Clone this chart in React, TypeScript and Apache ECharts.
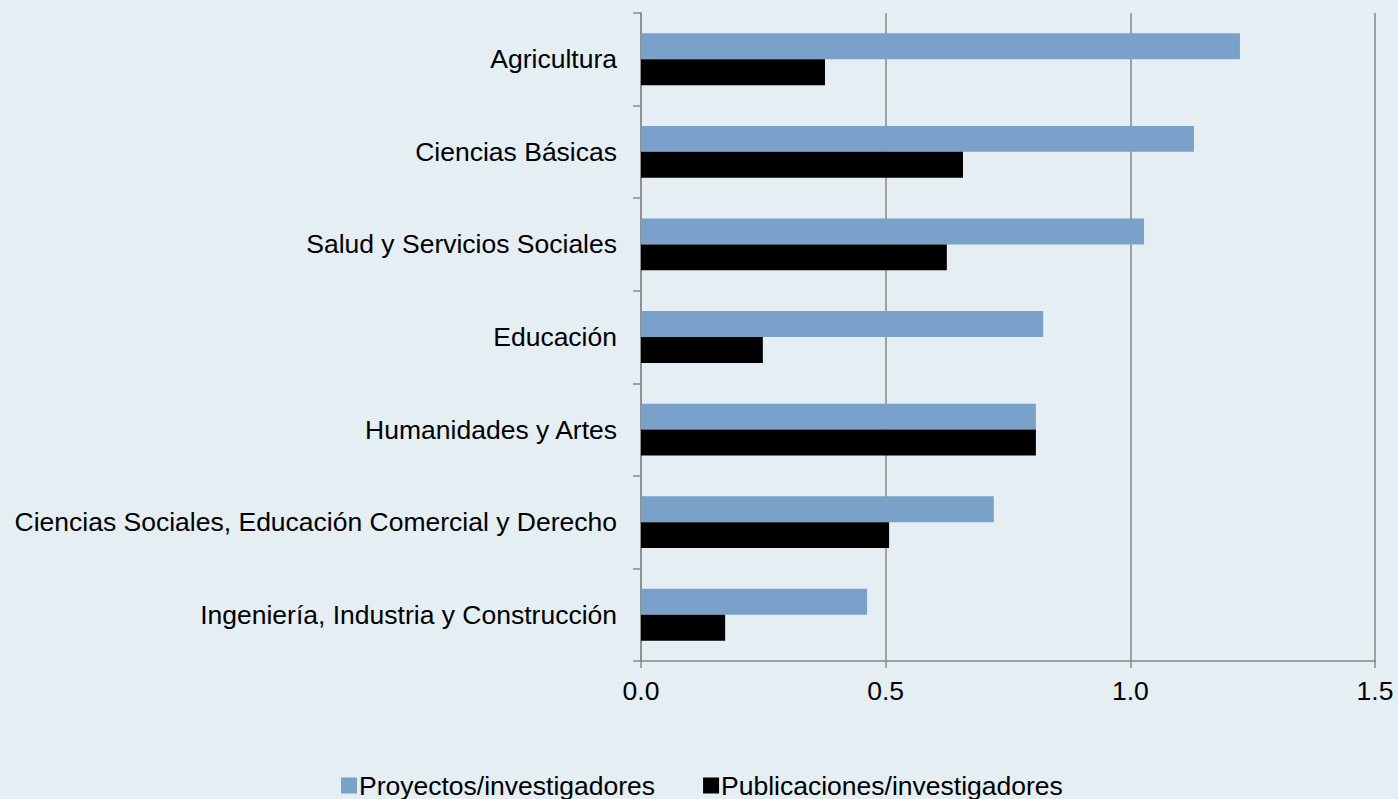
import React, { useEffect, useRef } from "react";
import * as echarts from "echarts";

const categories = [
  "Agricultura",
  "Ciencias Básicas",
  "Salud y Servicios Sociales",
  "Educación",
  "Humanidades y Artes",
  "Ciencias Sociales, Educación Comercial y Derecho",
  "Ingeniería, Industria y Construcción",
];
const proyectos = [1.224, 1.13, 1.028, 0.822, 0.807, 0.721, 0.462];
const publicaciones = [0.376, 0.658, 0.625, 0.249, 0.807, 0.507, 0.172];
const xTicks = [0, 0.5, 1.0, 1.5];

export default function App() {
  const ref = useRef<HTMLDivElement>(null);
  useEffect(() => {
    if (!ref.current) return;
    const chart = echarts.init(ref.current, null, { renderer: "svg" });
    const font = "'Liberation Sans', Arial, sans-serif";
    const fs = 26.5;
    chart.setOption({
      animation: false,
      backgroundColor: "#e4eef3",
      grid: { left: 641, right: 23, top: 13, bottom: 138, containLabel: false },
      legend: {
        left: 336,
        top: 767,
        itemWidth: 16,
        itemHeight: 16,
        itemGap: 48,
        icon: "rect",
        textStyle: { fontFamily: font, fontSize: fs, color: "#000", padding: [0, 0, 0, -3] },
        data: ["Proyectos/investigadores", "Publicaciones/investigadores"],
      },
      xAxis: {
        type: "value",
        min: xTicks[0],
        max: xTicks[xTicks.length - 1],
        interval: 0.5,
        axisLine: { show: true, lineStyle: { color: "#888", width: 1.5 } },
        axisTick: { show: true, length: 7, lineStyle: { color: "#888", width: 1.5 } },
        splitLine: { show: true, lineStyle: { color: "#888", width: 1.5 } },
        axisLabel: {
          fontFamily: font,
          fontSize: fs,
          color: "#000",
          margin: 16,
          formatter: (v: number) => v.toFixed(1),
        },
      },
      yAxis: {
        type: "category",
        inverse: true,
        data: categories,
        axisLine: { show: true, lineStyle: { color: "#888", width: 1.5 } },
        axisTick: { show: true, length: 8, lineStyle: { color: "#888", width: 1.5 } },
        axisLabel: { fontFamily: font, fontSize: fs, color: "#000", margin: 24 },
      },
      series: [
        {
          name: "Proyectos/investigadores",
          type: "bar",
          data: proyectos,
          barGap: "0%",
          barCategoryGap: "44%",
          itemStyle: { color: "#7aa1c9" },
        },
        {
          name: "Publicaciones/investigadores",
          type: "bar",
          data: publicaciones,
          barGap: "0%",
          barCategoryGap: "44%",
          itemStyle: { color: "#000000" },
        },
      ],
    });
    return () => chart.dispose();
  }, []);
  return (
    <div
      ref={ref}
      style={{ position: "fixed", left: 0, top: 0, width: 1398, height: 799 }}
    />
  );
}
